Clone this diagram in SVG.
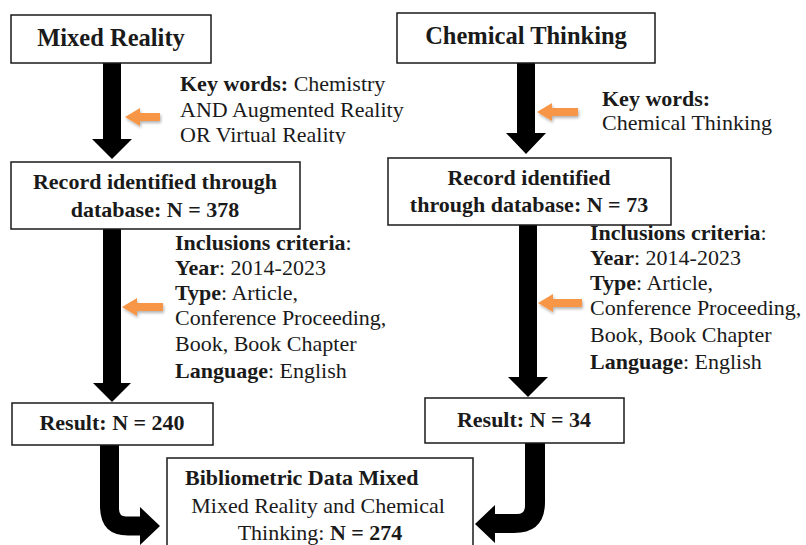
<svg xmlns="http://www.w3.org/2000/svg" width="806" height="545" viewBox="0 0 806 545">
<style>
.box{fill:#fff;stroke:#1a1a1a;stroke-width:1.5}
.t{font-family:"Liberation Serif","Times New Roman",serif;font-size:22px;fill:#1a1a1a}
.title{font-size:24.5px;font-weight:bold}
.b{font-weight:bold}
.blk{fill:#000}
.org{fill:#F79646;filter:url(#soft)}
</style>
<defs>
<clipPath id="kwclip"><rect x="170" y="60" width="260" height="84"/></clipPath>
<filter id="soft" x="-30%" y="-60%" width="160%" height="220%">
  <feGaussianBlur in="SourceAlpha" stdDeviation="1.5"/>
  <feOffset dx="1" dy="2" result="o"/>
  <feComponentTransfer><feFuncA type="linear" slope="0.3"/></feComponentTransfer>
  <feMerge><feMergeNode/><feMergeNode in="SourceGraphic"/></feMerge>
</filter>
</defs>
<rect width="806" height="545" fill="#fff"/>

<g id="connectors">
  <path class="blk" d="M103,63 H121 V139 H132 L112,159 L92,139 H103 Z"/>
  <path class="blk" d="M517,63 H535 V133 H546 L526,154 L506,133 H517 Z"/>
  <path class="blk" d="M103,229 H121 V383 H131 L112,402 L93,383 H103 Z"/>
  <path class="blk" d="M519,225 H537 V377 H548 L528,397 L508,377 H519 Z"/>
  <path class="blk" d="M100,445 H119 V509 Q119,516.5 126,516.5 H140 V507 L160,526 L140,545 V535.5 H128 Q100,535.5 100,506 Z"/>
  <path class="blk" d="M545,443 H525 V506 Q525,514 517,514 H495 V505 L475,524 L495,543 V533 H514 Q545,533 545,502 Z"/>
  <path class="org" d="M125,117 L140,108 V113 H160 V121 H140 V126 Z"/>
  <path class="org" d="M537,112 L552,103 V108 H578 V116 H552 V121 Z"/>
  <path class="org" d="M122,307 L137,298 V303 H163 V311 H137 V316 Z"/>
  <path class="org" d="M538,303 L553,294 V299 H582 V307 H553 V312 Z"/>
</g>

<g id="mixed-reality">
  <rect class="box" x="11" y="15" width="200" height="48"/>
  <text class="t title" x="111" y="46" text-anchor="middle">Mixed Reality</text>
</g>

<g id="chemical-thinking">
  <rect class="box" x="397" y="13" width="258" height="50"/>
  <text class="t title" x="526" y="44" text-anchor="middle">Chemical Thinking</text>
</g>

<g id="keywords-left" clip-path="url(#kwclip)">
  <text class="t" x="180" y="91"><tspan class="b">Key words:</tspan> Chemistry</text>
  <text class="t" x="180" y="117">AND Augmented Reality</text>
  <text class="t" x="180" y="142">OR Virtual Reality</text>
</g>

<g id="keywords-right">
  <text class="t" x="602" y="106"><tspan class="b">Key words:</tspan></text>
  <text class="t" x="602" y="130">Chemical Thinking</text>
</g>

<g id="record-378">
  <rect class="box" x="11" y="162" width="289" height="67"/>
  <text class="t b" x="155" y="189" text-anchor="middle">Record identified through</text>
  <text class="t b" x="155" y="217" text-anchor="middle">database: N = 378</text>
</g>

<g id="record-73">
  <rect class="box" x="388" y="158" width="283" height="67"/>
  <text class="t b" x="529" y="185" text-anchor="middle">Record identified</text>
  <text class="t b" x="529" y="212" text-anchor="middle">through database: N = 73</text>
</g>

<g id="criteria-left">
  <text class="t" x="175" y="250"><tspan class="b">Inclusions criteria</tspan>:</text>
  <text class="t" x="175" y="275"><tspan class="b">Year</tspan>: 2014-2023</text>
  <text class="t" x="175" y="300"><tspan class="b">Type</tspan>: Article,</text>
  <text class="t" x="175" y="325">Conference Proceeding,</text>
  <text class="t" x="175" y="351">Book, Book Chapter</text>
  <text class="t" x="175" y="378"><tspan class="b">Language</tspan>: English</text>
</g>

<g id="criteria-right">
  <text class="t" x="590" y="240"><tspan class="b">Inclusions criteria</tspan>:</text>
  <text class="t" x="590" y="265"><tspan class="b">Year</tspan>: 2014-2023</text>
  <text class="t" x="590" y="290"><tspan class="b">Type</tspan>: Article,</text>
  <text class="t" x="590" y="315">Conference Proceeding,</text>
  <text class="t" x="590" y="342">Book, Book Chapter</text>
  <text class="t" x="590" y="369"><tspan class="b">Language</tspan>: English</text>
</g>

<g id="result-240">
  <rect class="box" x="12" y="403" width="201" height="42"/>
  <text class="t b" x="112" y="430" text-anchor="middle">Result: N = 240</text>
</g>

<g id="result-34">
  <rect class="box" x="425" y="398" width="199" height="45"/>
  <text class="t b" x="524" y="427" text-anchor="middle">Result: N = 34</text>
</g>

<g id="bibliometric">
  <rect class="box" x="167" y="458" width="306" height="100"/>
  <text class="t b" x="185" y="485">Bibliometric Data Mixed</text>
  <text class="t" x="318" y="513" text-anchor="middle">Mixed Reality and Chemical</text>
  <text class="t" x="320" y="540" text-anchor="middle">Thinking: <tspan class="b">N = 274</tspan></text>
</g>
</svg>
